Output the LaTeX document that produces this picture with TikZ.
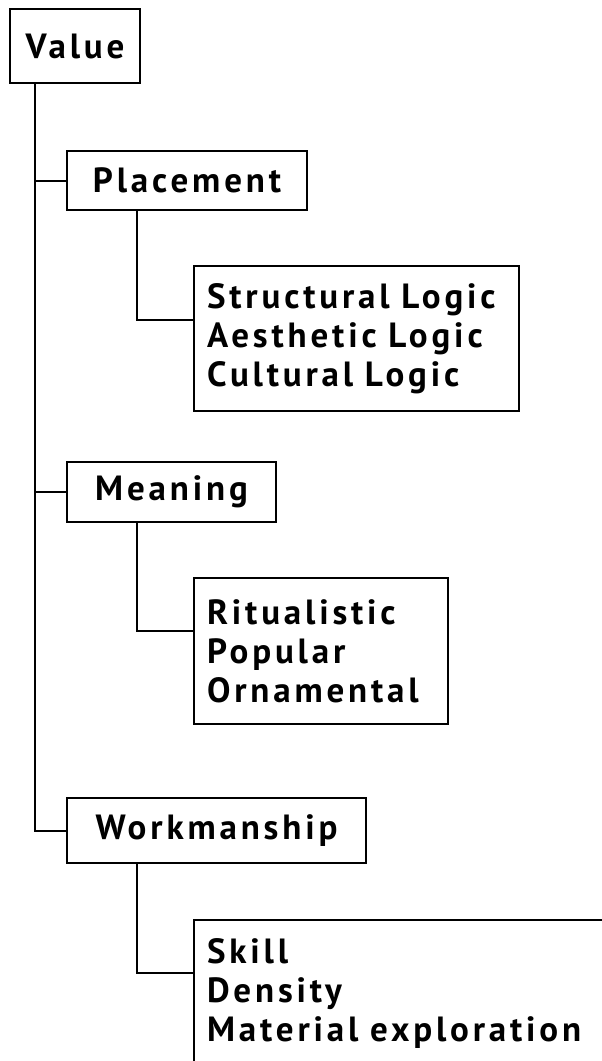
\documentclass[tikz,border=0pt]{standalone}
\usepackage{fontspec}
\setmainfont{PT Sans}[LetterSpace=11]
\usetikzlibrary{positioning,calc}
\newcommand{\widegap}{\spaceskip=0.42em\relax}
\tikzset{
  catbox/.style={
    rectangle, draw=black, line width=2pt, inner sep=0pt,
    anchor=north west,
    font=\fontsize{35}{39}\selectfont\bfseries\widegap
  },
  listbox/.style={
    catbox, align=left, inner xsep=13pt, text width=#1
  },
  link/.style={draw=black, line width=2pt}
}

\begin{document}
\begin{tikzpicture}[x=1pt, y=-1pt]
  \useasboundingbox (0,0) rectangle (602,1061);

  % Root
  \node[catbox, minimum width=130pt, minimum height=74pt] (val) at (9,8) {Value};

  % Level 1
  \node[catbox, minimum width=240pt, minimum height=59pt] (place) at (66,150) {Placement};
  \node[catbox, minimum width=209pt, minimum height=60pt] (mean) at (66,461) {Meaning};
  \node[catbox, minimum width=299pt, minimum height=65pt] (work) at (66,797) {Workmanship};

  % Level 2
  \node[listbox=299pt, minimum height=145pt] (struct) at (193,265)
    {Structural Logic\\Aesthetic Logic\\Cultural Logic};
  \node[listbox=228pt, minimum height=146pt] (ritual) at (193,577)
    {Ritualistic\\Popular\\Ornamental};
  \node[listbox=420pt, minimum height=146pt] (skill) at (193,919)
    {Skill\\Density\\Material exploration};

  % Trunk
  \draw[link] ($(val.south west)+(26,0)$) |- (place.west);
  \draw[link] ($(val.south west)+(26,0)$) |- (mean.west);
  \draw[link] ($(val.south west)+(26,0)$) |- (work.west);

  % Branches
  \draw[link] ($(place.south west)+(71,0)$) |- ($(struct.north west)+(0,55)$);
  \draw[link] ($(mean.south west)+(71,0)$) |- ($(ritual.north west)+(0,54)$);
  \draw[link] ($(work.south west)+(71,0)$) |- ($(skill.north west)+(0,54)$);
\end{tikzpicture}
\end{document}
